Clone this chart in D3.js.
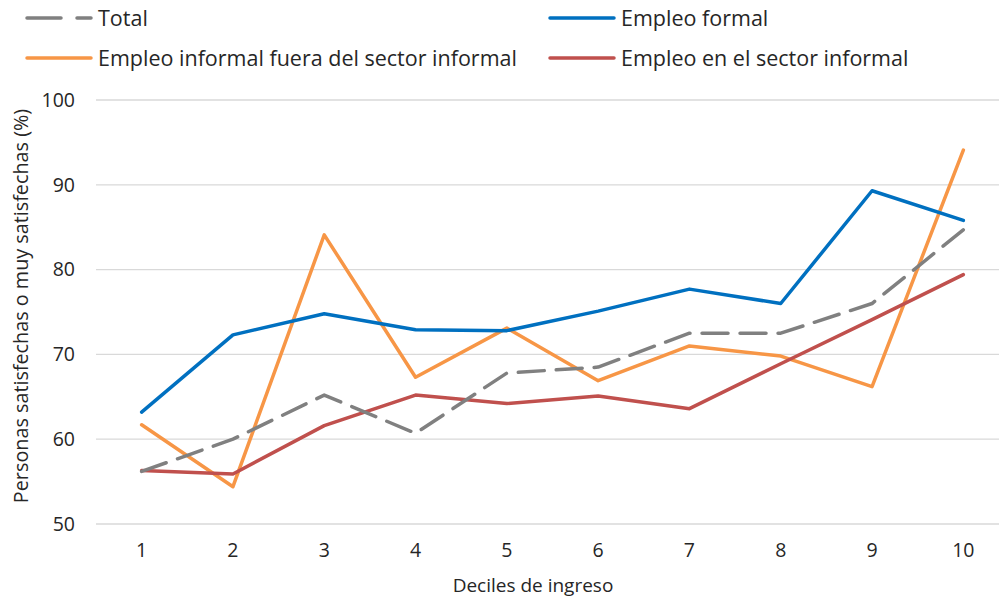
<!DOCTYPE html>
<html>
<head>
<meta charset="utf-8">
<script src="https://cdn.jsdelivr.net/npm/d3@7"></script>
<style>
  body { margin: 0; background: #fff; }
  text { font-family: "Open Sans", sans-serif; fill: #262626; }
</style>
</head>
<body>
<script>
// Deciles and series
const deciles = [1, 2, 3, 4, 5, 6, 7, 8, 9, 10];
const total = [56.2, 60.0, 65.2, 60.7, 67.8, 68.5, 72.5, 72.5, 76.0, 84.7];
const formal = [63.2, 72.3, 74.8, 72.9, 72.8, 75.1, 77.7, 76.0, 89.3, 85.8];
const informalFuera = [61.7, 54.4, 84.1, 67.3, 73.1, 66.9, 71.0, 69.8, 66.2, 94.1];
const sectorInformal = [56.3, 55.9, 61.6, 65.2, 64.2, 65.1, 63.6, 68.9, 74.1, 79.4];
const yTicks = [50, 60, 70, 80, 90, 100];

const width = 999, height = 600;
const plotLeft = 96, plotRight = 1009, plotTop = 100, plotBottom = 524;

const svg = d3.select("body").append("svg")
    .attr("width", width)
    .attr("height", height);

const x = d3.scaleBand().domain(deciles).range([plotLeft, plotRight]);
const y = d3.scaleLinear().domain([50, 100]).range([plotBottom, plotTop]);
const cx = d => x(d) + x.bandwidth() / 2;

// gridlines
svg.append("g")
  .selectAll("line")
  .data(yTicks)
  .enter().append("line")
    .attr("x1", plotLeft)
    .attr("x2", plotRight)
    .attr("y1", d => y(d))
    .attr("y2", d => y(d))
    .style("stroke", "#d9d9d9")
    .style("stroke-width", 1.3);

// y tick labels
svg.append("g")
  .selectAll("text")
  .data(yTicks)
  .enter().append("text")
    .attr("x", 75)
    .attr("y", d => y(d))
    .attr("dy", "0.35em")
    .attr("text-anchor", "end")
    .style("font-size", "19.5px")
    .text(d => d);

// x tick labels
svg.append("g")
  .selectAll("text")
  .data(deciles)
  .enter().append("text")
    .attr("x", d => cx(d))
    .attr("y", 557)
    .attr("text-anchor", "middle")
    .style("font-size", "19.5px")
    .text(d => d);

// axis titles
svg.append("text")
    .attr("x", 533)
    .attr("y", 592)
    .attr("text-anchor", "middle")
    .style("font-size", "19px")
    .text("Deciles de ingreso");

svg.append("text")
    .attr("transform", "translate(28,306) rotate(-90)")
    .attr("text-anchor", "middle")
    .style("font-size", "19.8px")
    .text("Personas satisfechas o muy satisfechas (%)");

const series = [
  { name: "Total", values: total, color: "#808080", dash: "26,12" },
  { name: "Empleo formal", values: formal, color: "#0070c0", dash: null },
  { name: "Empleo informal fuera del sector informal", values: informalFuera, color: "#f79646", dash: null },
  { name: "Empleo en el sector informal", values: sectorInformal, color: "#c0504d", dash: null }
];

const line = d3.line()
    .x((d, i) => cx(deciles[i]))
    .y(d => y(d));

// draw order as in the reference
[series[2], series[3], series[0], series[1]].forEach(function(s) {
  svg.append("path")
      .datum(s.values)
      .attr("d", line)
      .style("fill", "none")
      .style("stroke", s.color)
      .style("stroke-width", 3.5)
      .style("stroke-linejoin", "round")
      .style("stroke-linecap", "round")
      .style("stroke-dasharray", s.dash);
});

// legend
const legendPos = [[27, 18], [550, 18], [27, 58], [550, 58]];
series.forEach(function(s, i) {
  const g = svg.append("g")
      .attr("transform", "translate(" + legendPos[i][0] + "," + legendPos[i][1] + ")");
  g.append("line")
      .attr("x1", 0).attr("x2", 64)
      .style("stroke", s.color)
      .style("stroke-width", 3.5)
      .style("stroke-linecap", "round")
      .style("stroke-dasharray", s.dash ? "34,16" : null);
  g.append("text")
      .attr("x", 71)
      .attr("dy", "0.35em")
      .style("font-size", "21.5px")
      .text(s.name);
});
</script>
</body>
</html>
